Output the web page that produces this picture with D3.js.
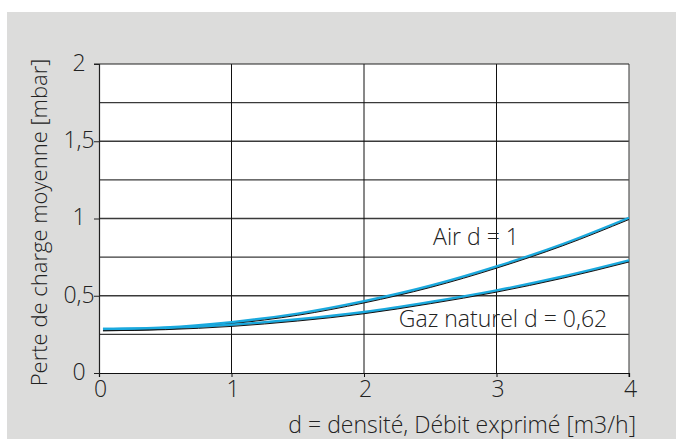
<!DOCTYPE html>
<html>
<head>
<meta charset="utf-8">
<script src="https://cdn.jsdelivr.net/npm/d3@7"></script>
<style>
  body { margin: 0; background: #fff; }
  text { font-family: "Open Sans", sans-serif; font-weight: 300; fill: #222; }
</style>
</head>
<body>
<svg width="676" height="439"></svg>
<script>
// debit values (m3/h)
const debit = [0.03, 0.5, 1, 1.5, 2, 2.5, 3, 3.5, 4];
// perte de charge (mbar)
const air = [0.28, 0.29, 0.325, 0.38, 0.46, 0.56, 0.685, 0.83, 1.0];
const gaz = [0.28, 0.287, 0.308, 0.343, 0.39, 0.455, 0.53, 0.62, 0.725];
const xTicks = [0, 1, 2, 3, 4];
const yTicks = [0, 0.5, 1, 1.5, 2];
const yGrid = [0.25, 0.5, 0.75, 1, 1.25, 1.5, 1.75];

const svg = d3.select("svg");

// grey panel
svg.append("rect")
    .attr("x", 7).attr("y", 12)
    .attr("width", 669).attr("height", 427)
    .attr("fill", "#dcdcdb");

const x = d3.scaleLinear().domain([0, 4]).range([99, 629]);
const y = d3.scaleLinear().domain([0, 2]).range([373, 64]);

// plot area
svg.append("rect")
    .attr("x", x(0)).attr("y", y(2))
    .attr("width", x(4) - x(0)).attr("height", y(0) - y(2))
    .attr("fill", "#fff");

// horizontal grid
svg.append("g").selectAll("line")
    .data(yGrid)
    .enter().append("line")
    .attr("x1", x(0)).attr("x2", x(4))
    .attr("y1", d => y(d)).attr("y2", d => y(d))
    .attr("stroke", "#3a3a3a")
    .attr("stroke-width", 1.4);

// vertical grid
svg.append("g").selectAll("line")
    .data([1, 2, 3])
    .enter().append("line")
    .attr("x1", d => x(d)).attr("x2", d => x(d))
    .attr("y1", y(2)).attr("y2", y(0))
    .attr("stroke", "#111")
    .attr("stroke-width", 1);

// right border + top
svg.append("line")
    .attr("x1", x(4)).attr("x2", x(4)).attr("y1", y(2)).attr("y2", y(0) + 4)
    .attr("stroke", "#555").attr("stroke-width", 1.2);
svg.append("line")
    .attr("x1", x(0) - 5).attr("x2", x(4)).attr("y1", y(2)).attr("y2", y(2))
    .attr("stroke", "#222").attr("stroke-width", 1.2);

// axes
const xAxis = d3.axisBottom(x).tickValues(xTicks).tickSize(4).tickPadding(4)
    .tickFormat(d3.format("d"));
const gx = svg.append("g").attr("transform", `translate(0,${y(0)})`).call(xAxis);
gx.select(".domain").attr("stroke", "#111").attr("stroke-width", 1.2);
gx.selectAll(".tick line").attr("stroke", "#111");
gx.selectAll("text").attr("font-size", 23).attr("fill", "#222")
    .attr("font-family", "Open Sans").attr("font-weight", 300)
    .attr("dx", 1);

const yAxis = d3.axisLeft(y).tickValues(yTicks).tickSize(5).tickPadding(1)
    .tickFormat(d => String(d).replace(".", ","));
const gy = svg.append("g").attr("transform", `translate(${x(0)},0)`).call(yAxis);
gy.select(".domain").attr("stroke", "#222").attr("stroke-width", 1.2);
gy.selectAll(".tick line").attr("stroke", "#222");
gy.selectAll("text").attr("font-size", 23).attr("fill", "#222")
    .attr("font-family", "Open Sans").attr("font-weight", 300)
    .attr("text-anchor", "middle").attr("x", -20).attr("dy", "0.28em");

// curves
const line = d3.line()
    .x((d, i) => x(debit[i]))
    .y(d => y(d))
    .curve(d3.curveMonotoneX);

[air, gaz].forEach(s => {
    svg.append("path")
        .attr("d", line(s))
        .attr("fill", "none")
        .attr("stroke", "#1aa9de")
        .attr("stroke-width", 2.6)
        .attr("transform", "translate(0,-0.6)");
    svg.append("path")
        .attr("d", line(s))
        .attr("fill", "none")
        .attr("stroke", "#111")
        .attr("stroke-width", 1)
        .attr("transform", "translate(0,1)");
});

// curve labels
svg.append("text")
    .attr("x", 476).attr("y", 245)
    .attr("text-anchor", "middle")
    .attr("font-size", 23)
    .text("Air d = 1");
svg.append("text")
    .attr("x", 503).attr("y", 327)
    .attr("text-anchor", "middle")
    .attr("font-size", 23)
    .text("Gaz naturel d = 0,62");

// axis titles
svg.append("text")
    .attr("transform", `translate(47,${(y(0) + y(2)) / 2 + 4}) rotate(-90)`)
    .attr("text-anchor", "middle")
    .attr("font-size", 22)
    .text("Perte de charge moyenne [mbar]");
svg.append("text")
    .attr("x", 636).attr("y", 433)
    .attr("text-anchor", "end")
    .attr("font-size", 23)
    .text("d = densité, Débit exprimé [m3/h]");
</script>
</body>
</html>
